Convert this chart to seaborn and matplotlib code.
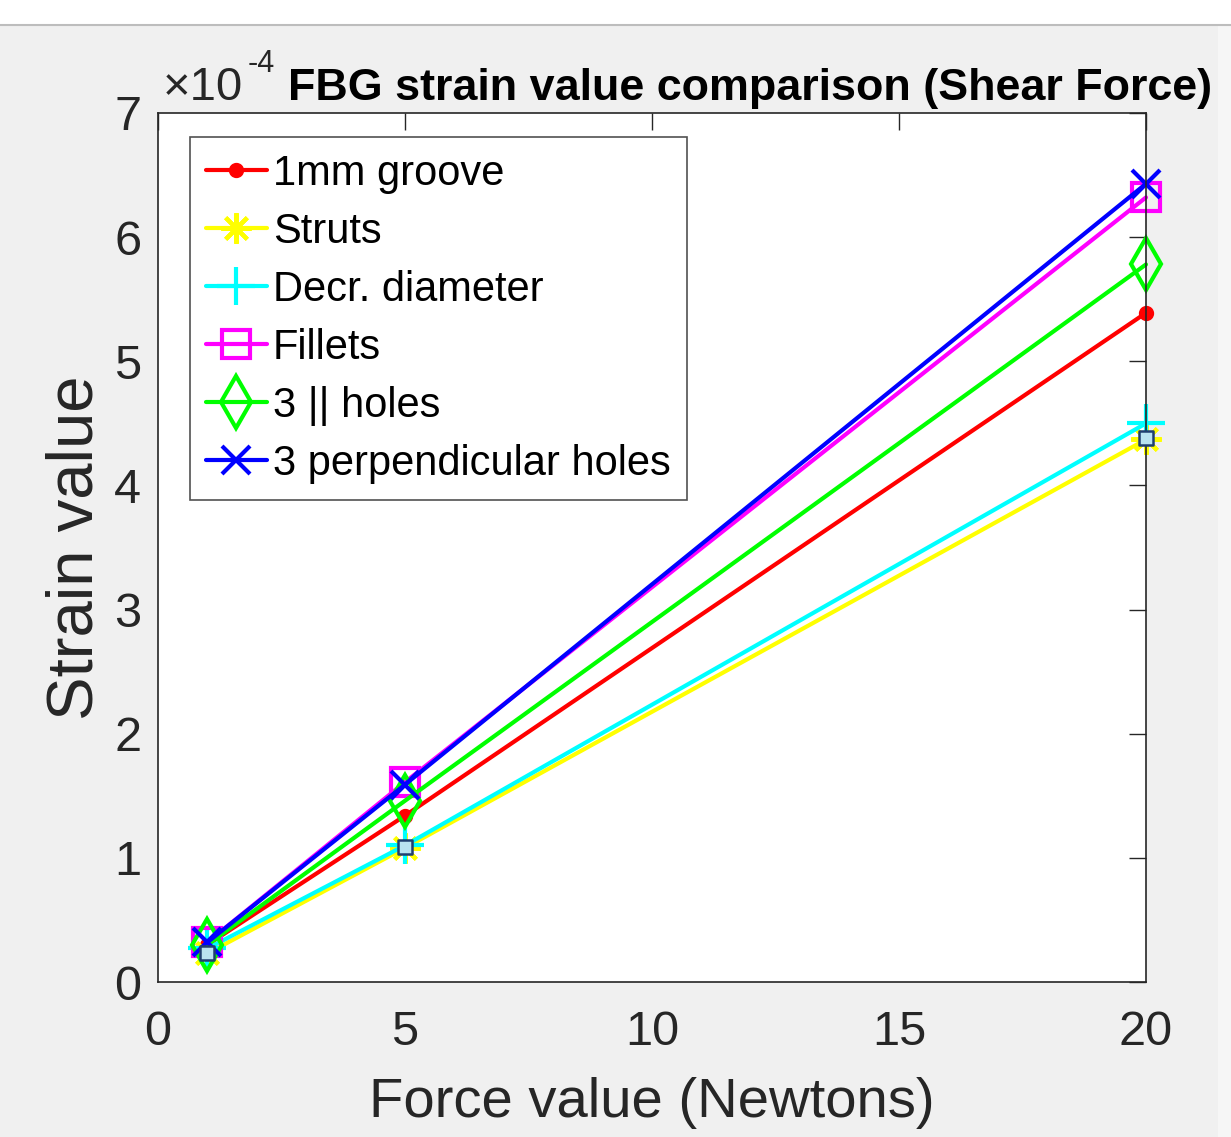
import numpy as np
import pandas as pd
import matplotlib
matplotlib.use("Agg")
import matplotlib.pyplot as plt
import seaborn as sns

# ── Data ─────────────────────────────────────────────
force = [1, 5, 20]
groove_1mm = [0.30, 1.34, 5.39]
struts = [0.23, 1.08, 4.37]
decr_diameter = [0.27, 1.10, 4.50]
fillets = [0.32, 1.61, 6.32]
holes_par = [0.30, 1.46, 5.78]
holes_perp = [0.32, 1.59, 6.43]
tip_values = [0.23, 1.09, 4.38]   # data-tip squares

labels = ["1mm groove", "Struts", "Decr. diameter", "Fillets",
          "3 || holes", "3 perpendicular holes"]

# ── Style ────────────────────────────────────────────
sns.set_theme(style="white")
FONT = ["Liberation Sans", "DejaVu Sans"]
plt.rcParams["font.family"] = FONT
TXT = "#262626"
BG = "#f0f0f0"

fig = plt.figure(figsize=(12.31, 11.37), dpi=100)
fig.patch.set_facecolor(BG)
fig.add_artist(plt.Rectangle((0, 1 - 25 / 1137), 1, 25 / 1137, transform=fig.transFigure,
                             facecolor="white", edgecolor="none", zorder=-5))
fig.add_artist(plt.Rectangle((1218 / 1231, 0), 13 / 1231, 1 - 25 / 1137, transform=fig.transFigure,
                             facecolor="#f6f6f6", edgecolor="none", zorder=-5))
fig.add_artist(plt.Line2D([0, 1], [1 - 25 / 1137] * 2, transform=fig.transFigure,
                          color="#bdbdbd", lw=1.5))

ax = fig.add_axes([158 / 1231, 1 - 982 / 1137, (1146 - 158) / 1231, (982 - 113) / 1137])
ax.set_facecolor("white")

series = [
    (groove_1mm, "#ff0000", dict(marker="o", markersize=8, markerfacecolor="#ff0000")),
    (struts, "#ffff00", dict(marker=(8, 2, 0), markersize=22)),
    (decr_diameter, "#00ffff", dict(marker="+", markersize=27)),
    (fillets, "#ff00ff", dict(marker="s", markersize=20, markerfacecolor="none")),
    (holes_par, "#00ff00", dict(marker="d", markersize=26, markerfacecolor="none")),
    (holes_perp, "#0000ff", dict(marker="x", markersize=20)),
]

for (vals, color, mk), lab in zip(series, labels):
    sns.lineplot(x=force, y=vals, color=color, lw=3, label=lab, ax=ax, clip_on=False,
                 markeredgecolor=color, markeredgewidth=3, **mk)

sns.scatterplot(x=force, y=tip_values, marker="s", s=90, color="#b9e3f0",
                edgecolor="#1f3f6f", linewidth=1.8, ax=ax, zorder=10, clip_on=False)

ax.set_xlim(0, 20)
ax.set_ylim(0, 7)
ax.set_xticks([0, 5, 10, 15, 20])
ax.set_yticks(range(8))
ax.tick_params(direction="in", length=12, width=1, colors=TXT, labelsize=35,
               top=True, right=True)
ax.tick_params(axis="x", pad=20)
ax.tick_params(axis="y", pad=12)
for s in ax.spines.values():
    s.set_color(TXT)
    s.set_linewidth(1.2)

ax.set_xlabel("Force value (Newtons)", fontsize=40.5, color=TXT, labelpad=16)
ax.set_ylabel("Strain value", fontsize=47, color=TXT, labelpad=6)

fig.text(288 / 1231, 1 - 100 / 1137, "FBG strain value comparison (Shear Force)",
         fontsize=32.3, fontweight="bold", color="black", va="baseline", ha="left")
fig.text(163 / 1231, 1 - 100 / 1137, "×10", fontsize=34, color=TXT, va="baseline", ha="left")
fig.text(248 / 1231, 1 - 72 / 1137, "-4", fontsize=22, color=TXT, va="baseline", ha="left")

leg = ax.legend(loc="upper left", bbox_to_anchor=(0.032, 0.972), borderaxespad=0,
                fontsize=30, frameon=True, fancybox=False, handlelength=1.45,
                handletextpad=0.15, labelspacing=0.43, borderpad=0.4, markerscale=1)
leg.get_frame().set_edgecolor(TXT)
leg.get_frame().set_linewidth(1.2)
for t in leg.get_texts():
    t.set_color("black")

fig.savefig("out.png", dpi=100, facecolor=fig.get_facecolor())
